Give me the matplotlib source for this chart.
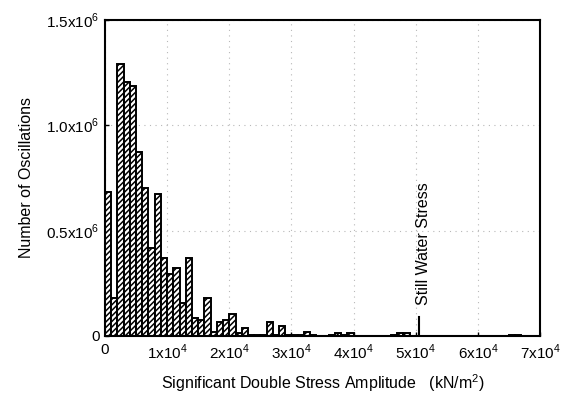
import numpy as np
import matplotlib as mpl
import matplotlib.pyplot as plt
from matplotlib.ticker import FixedLocator, FixedFormatter

plt.rcParams["font.family"] = "Liberation Sans"
plt.rcParams["mathtext.fontset"] = "custom"
plt.rcParams["mathtext.rm"] = "Liberation Sans"
plt.rcParams["hatch.linewidth"] = 1.1

# histogram of stress ranges, bin width 1000 kN/m2 (counts in units of 1e6)
bin_width = 1000.0
counts = [0.682, 0.179, 1.291, 1.204, 1.187, 0.872, 0.704, 0.416, 0.674, 0.369,
          0.293, 0.321, 0.158, 0.369, 0.086, 0.076, 0.179, 0.019, 0.065, 0.076,
          0.106, 0.014, 0.036, 0.004, 0.003, 0.003, 0.066, 0.006, 0.048, 0.004,
          0.003, 0.003, 0.017, 0.003, 0.002, 0.002, 0.003, 0.016, 0.004, 0.012,
          0.002, 0.002, 0.002, 0.002, 0.002, 0.002, 0.003, 0.012, 0.012, 0.002,
          0.002, 0.002, 0.002, 0.002, 0.002, 0.002, 0.002, 0.002, 0.002, 0.002,
          0.002, 0.002, 0.002, 0.002, 0.002, 0.005, 0.004, 0.002, 0.002, 0.002]
still_water_x = 5.05e4
still_water_y = 0.092e6

xticks = [0, 1e4, 2e4, 3e4, 4e4, 5e4, 6e4, 7e4]
xticklabels = ["0"] + [r"%dx10$^{\mathregular{4}}$" % i for i in range(1, 8)]
yticks = [0, 0.5e6, 1.0e6, 1.5e6]
yticklabels = ["0", r"0.5x10$^{\mathregular{6}}$", r"1.0x10$^{\mathregular{6}}$",
               r"1.5x10$^{\mathregular{6}}$"]

fig = plt.figure(figsize=(5.62, 4.08), dpi=100)
ax = fig.add_axes([0.1868, 0.1765, 0.7742, 0.7745])

left = np.arange(len(counts)) * bin_width
ax.bar(left, np.array(counts) * 1e6, width=bin_width, align="edge",
       color="white", edgecolor="black", linewidth=1.4, hatch="//////", zorder=3)

ax.plot([still_water_x, still_water_x], [0, still_water_y], color="black",
        linewidth=1.5, zorder=4)
ax.text(still_water_x + 700, 0.147e6, "Still Water Stress", rotation=90,
        ha="center", va="bottom", fontsize=11.5)

ax.set_xlim(0, 7e4)
ax.set_ylim(0, 1.5e6)
ax.xaxis.set_major_locator(FixedLocator(xticks))
ax.xaxis.set_major_formatter(FixedFormatter(xticklabels))
ax.yaxis.set_major_locator(FixedLocator(yticks))
ax.yaxis.set_major_formatter(FixedFormatter(yticklabels))

ax.grid(True, color="#b8b8b8", linestyle=(0, (1, 4)), linewidth=0.8, zorder=0)
ax.tick_params(direction="in", length=3, width=1, labelsize=11)
ax.tick_params(axis="y", pad=4)
ax.tick_params(axis="x", pad=5)
for s in ax.spines.values():
    s.set_linewidth(1.5)
    s.set_zorder(5)

ax.set_xlabel("Significant Double Stress Amplitude   (kN/m$^{\\mathregular{2}}$)",
              fontsize=11.5, labelpad=7)
ax.set_ylabel("Number of Oscillations", fontsize=11.5, labelpad=9)

fig.savefig("out.png", dpi=100)
